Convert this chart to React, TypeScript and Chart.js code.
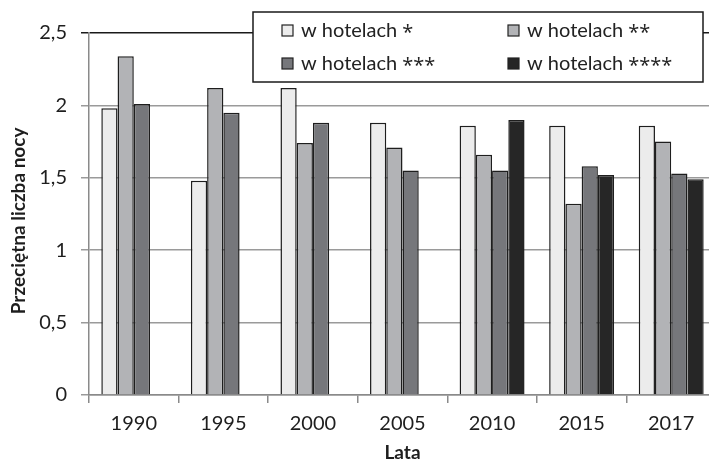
import React, { useEffect, useRef } from "react";
import { Chart, registerables } from "chart.js";

Chart.register(...registerables);

const categories = ["1990", "1995", "2000", "2005", "2010", "2015", "2017"];
const seriesNames = ["w hotelach *", "w hotelach **", "w hotelach ***", "w hotelach ****"];
const hotel1 = [1.98, 1.48, 2.12, 1.88, 1.86, 1.86, 1.86];
const hotel2 = [2.34, 2.12, 1.74, 1.71, 1.66, 1.32, 1.75];
const hotel3 = [2.01, 1.95, 1.88, 1.55, 1.55, 1.58, 1.53];
const hotel4 = [null, null, null, null, 1.9, 1.52, 1.49];
const yTicks = [0, 0.5, 1, 1.5, 2, 2.5];
const colors = ["#ececec", "#b2b3b6", "#76777b", "#262626"];

const FONT = "Lato, 'Open Sans', sans-serif";

const legendPlugin = {
  id: "boxLegend",
  afterDraw(chart: any) {
    const ctx = chart.ctx;
    ctx.save();
    const bx = 253, by = 12, bw = 450, bh = 70;
    ctx.fillStyle = "#ffffff";
    ctx.fillRect(bx, by, bw, bh);
    ctx.strokeStyle = "#1a1a1a";
    ctx.lineWidth = 1.5;
    ctx.strokeRect(bx, by, bw, bh);
    const cols = [282, 508];
    const rows = [30, 63];
    chart.data.datasets.forEach((ds: any, i: number) => {
      const x = cols[i % 2];
      const y = rows[Math.floor(i / 2)];
      ctx.fillStyle = ds.backgroundColor;
      ctx.fillRect(x, y - 5, 11, 11);
      ctx.strokeStyle = "#222";
      ctx.lineWidth = 1.2;
      ctx.strokeRect(x, y - 5, 11, 11);
      ctx.fillStyle = "#222";
      ctx.font = `20px ${FONT}`;
      ctx.textBaseline = "middle";
      ctx.textAlign = "left";
      const base = "w hotelach";
      ctx.fillText(base, x + 19, y + 1);
      const w = ctx.measureText(base + " ").width;
      ctx.font = `20px 'Open Sans', sans-serif`;
      ctx.fillText(ds.label.slice(base.length + 1), x + 19 + w, y + 3);
    });
    ctx.restore();
  },
};

export default function App() {
  const ref = useRef<HTMLCanvasElement | null>(null);
  useEffect(() => {
    document.body.style.margin = "0";
    const data = [hotel1, hotel2, hotel3, hotel4];
    const chart = new Chart(ref.current as HTMLCanvasElement, {
      type: "bar",
      data: {
        labels: categories,
        datasets: data.map((d, i) => ({
          label: seriesNames[i],
          data: d as any,
          backgroundColor: colors[i],
          borderColor: "#1e1e1e",
          borderWidth: 1.5,
          categoryPercentage: 0.725,
          barPercentage: 1,
        })),
      },
      options: {
        animation: false,
        responsive: false,
        maintainAspectRatio: false,
        layout: { padding: { top: 33, right: 0, bottom: 0, left: 0 } },
        plugins: {
          legend: { display: false },
          tooltip: { enabled: false },
        },
        scales: {
          x: {
            offset: true,
            grid: {
              offset: true,
              drawOnChartArea: false,
              color: "#8a8a8a",
              lineWidth: 1.5,
              tickLength: 8,
            },
            border: { color: "#8a8a8a", width: 1.5 },
            ticks: {
              color: "#1e1e1e",
              font: { family: FONT, size: 20 },
              padding: 9,
              maxRotation: 0,
            },
            title: {
              display: true,
              text: "Lata",
              color: "#1e1e1e",
              font: { family: FONT, size: 19, weight: "bold", lineHeight: 1 },
              padding: { top: 0, bottom: 0 },
            },
            afterFit(scale: any) {
              scale.height = 67;
            },
          },
          y: {
            min: 0,
            max: 2.5,
            afterBuildTicks(scale: any) {
              scale.ticks = yTicks.map((v) => ({ value: v }));
            },
            grid: {
              color: (c: any) => (c.tick && c.tick.value === 2.5 ? "#1a1a1a" : "#9a9a9a"),
              lineWidth: 1.5,
              tickLength: 8,
            },
            border: { color: "#8a8a8a", width: 1.5 },
            ticks: {
              color: "#1e1e1e",
              font: { family: FONT, size: 20 },
              padding: 14,
              callback: (v: any) => String(v).replace(".", ","),
            },
            title: {
              display: true,
              text: "Przeciętna liczba nocy   ",
              color: "#1e1e1e",
              font: { family: FONT, size: 19, weight: "bold" },
              padding: { top: 7, bottom: 0 },
            },
            afterFit(scale: any) {
              scale.width = 89;
            },
          },
        },
      },
      plugins: [legendPlugin],
    });
    return () => chart.destroy();
  }, []);
  return (
    <div style={{ width: 709, height: 462, overflow: "hidden", position: "relative" }}>
      <canvas ref={ref} width={716} height={462} style={{ display: "block" }} />
    </div>
  );
}
